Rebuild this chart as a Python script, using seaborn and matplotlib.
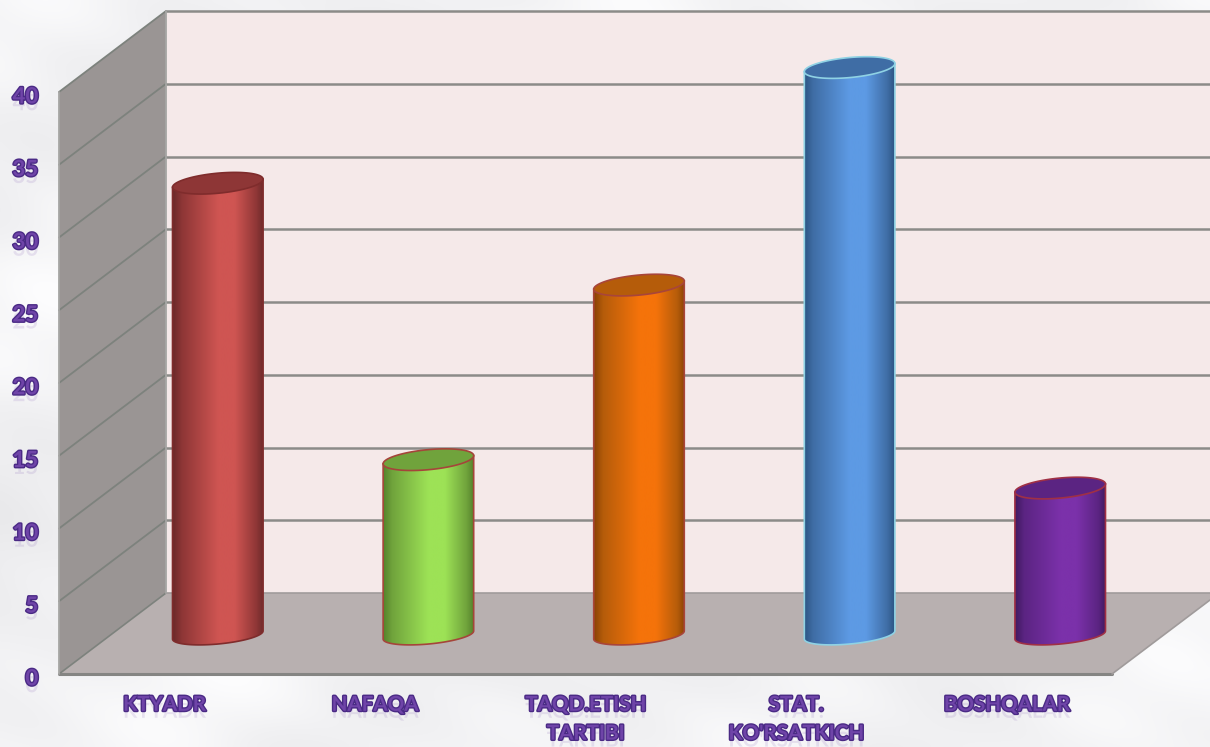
import numpy as np
import pandas as pd
import matplotlib
matplotlib.use("Agg")
import matplotlib.pyplot as plt
import matplotlib.patheffects as pe
from matplotlib.colors import LinearSegmentedColormap
from matplotlib.patches import Polygon
from matplotlib.transforms import ScaledTranslation
import seaborn as sns

categories = ["KTYADR", "NAFAQA", "TAQD.ETISH\nTARTIBI", "STAT.\nKO'RSATKICH", "BOSHQALAR"]
values = [31.05, 12.05, 24.05, 39.0, 10.1]
y_ticks = [0, 5, 10, 15, 20, 25, 30, 35, 40]

light_colors = ["#cf5552", "#9de256", "#f5730a", "#5d9ae4", "#7b31aa"]
dark_colors = ["#6c2a2a", "#55822c", "#8a4204", "#2c5583", "#401a60"]
top_colors = ["#8e3636", "#70a33c", "#b55c0a", "#3f6da5", "#5b2482"]
edge_colors = ["#7f2c2c", "#a5453a", "#a8453a", "#8fd2e4", "#a03045"]

W, H = 1210, 747
PURPLE = "#6f44a8"


def px_rect(left, top, right, bottom):
    return [left / W, 1 - bottom / H, (right - left) / W, (bottom - top) / H]


def text_effects():
    return [
        pe.withSimplePatchShadow(offset=(0, -5), shadow_rgbFace=PURPLE, alpha=0.13),
        pe.Stroke(linewidth=2.0, foreground="#4a2a85"),
        pe.Normal(),
    ]


def draw_background(bg):
    # soft cloudy backdrop
    yy, xx = np.mgrid[0:H:4, 0:W:4]
    cloud = (
        np.sin(xx / 83 + 1.2 * np.sin(yy / 120))
        + np.sin(yy / 61 + 1.5 * np.sin(xx / 140) + 2)
        + 0.7 * np.sin((xx + yy) / 47 + 1)
        + 0.5 * np.sin((xx - 2 * yy) / 31)
    )
    cloud = (cloud - cloud.min()) / (cloud.max() - cloud.min())
    cmap = LinearSegmentedColormap.from_list("cloud", ["#e8e8ea", "#f1f1f3", "#fdfdfe"])
    bg.imshow(cloud, cmap=cmap, extent=(0, W, H, 0), aspect="auto", interpolation="bicubic", zorder=0)


def draw_box(bg, ax_front):
    fx0, fx1, fy0 = 59, 1112, 674
    dx, dy = 107, -81
    grid = "#8b8b88"
    tick_px = [H - ax_front.transData.transform((0, t))[1] for t in y_ticks]
    top_front = tick_px[-1]

    # back wall, side wall, floor
    bg.add_patch(Polygon([(fx0 + dx, top_front + dy), (W, top_front + dy), (W, fy0 + dy), (fx0 + dx, fy0 + dy)],
                         facecolor="#f5e9e9", edgecolor="none", zorder=1))
    bg.add_patch(Polygon([(fx0, top_front), (fx0 + dx, top_front + dy), (fx0 + dx, fy0 + dy), (fx0, fy0)],
                         facecolor="#9a9594", edgecolor="none", zorder=1))
    bg.add_patch(Polygon([(fx0, fy0), (fx0 + dx, fy0 + dy), (W, fy0 + dy), (W, fy0 - 74), (fx1, fy0)],
                         facecolor="#b8b0b0", edgecolor="none", zorder=1))

    for y in tick_px[1:]:
        bg.plot([fx0, fx0 + dx], [y, y + dy], color="#7d827d", lw=1.3, zorder=2)
        bg.plot([fx0 + dx, W], [y + dy, y + dy], color=grid, lw=1.8, zorder=2)
    bg.plot([fx0, fx0 + dx], [fy0, fy0 + dy], color="#7d827d", lw=1.2, zorder=2)
    bg.plot([fx0 + dx, W], [fy0 + dy, fy0 + dy], color="#a09b9b", lw=1.2, zorder=2)
    bg.plot([fx0, fx1], [fy0, fy0], color="#858583", lw=2.2, zorder=3)
    bg.plot([fx1, W], [fy0, fy0 - 74], color="#a09b9b", lw=1.2, zorder=3)
    bg.plot([fx0, fx0], [top_front, fy0], color="#a6a6a4", lw=1.3, zorder=3)
    bg.plot([fx0 + dx, fx0 + dx], [top_front + dy, fy0 + dy], color="#a6a6a4", lw=1.3, zorder=3)


def draw_cylinders(ax):
    # shear and ellipse half height in data units
    shear, half = 0.28, 0.62
    t = np.linspace(0, 2 * np.pi, 120)
    arc = np.linspace(np.pi, 2 * np.pi, 60)
    for i, bar in enumerate(ax.patches):
        x0, w, h = bar.get_x(), bar.get_width(), bar.get_height()
        cx = x0 + w / 2

        bottom = np.column_stack([cx + w / 2 * np.cos(arc),
                                  shear * np.cos(arc) + half * np.sin(arc)])
        body_pts = np.vstack([[(x0, h - shear)], bottom, [(x0 + w, h + shear)]])
        body = Polygon(body_pts, closed=True, facecolor="none", edgecolor=edge_colors[i],
                       lw=1.2, zorder=5)

        cmap = LinearSegmentedColormap.from_list(
            f"cyl{i}",
            [(0, dark_colors[i]), (0.1, top_colors[i]), (0.5, light_colors[i]),
             (0.68, light_colors[i]), (0.92, top_colors[i]), (1, dark_colors[i])],
        )
        grad = np.linspace(0, 1, 256).reshape(1, -1)
        img = ax.imshow(grad, cmap=cmap, extent=(x0, x0 + w, -2, h + 2), aspect="auto", zorder=4)
        ax.add_patch(body)
        img.set_clip_path(body)
        bar.set_clip_path(body)

        top_pts = np.column_stack([cx + w / 2 * np.cos(t), h + shear * np.cos(t) + 0.69 * np.sin(t)])
        ax.add_patch(Polygon(top_pts, closed=True, facecolor=top_colors[i],
                             edgecolor=edge_colors[i], lw=1.2, zorder=6, clip_on=False))


def main():
    sns.set_theme(style="white")
    plt.rcParams["font.family"] = ["Lato", "DejaVu Sans"]

    df = pd.DataFrame({"category": categories, "value": values})

    fig = plt.figure(figsize=(W / 100, H / 100), dpi=100)

    bg = fig.add_axes([0, 0, 1, 1], zorder=0)
    bg.set_xlim(0, W)
    bg.set_ylim(H, 0)
    bg.axis("off")

    # front plane carries the tick labels
    ax_front = fig.add_axes(px_rect(59, 92, 1112, 674), zorder=1)
    ax_front.patch.set_alpha(0)
    ax_front.set_xlim(-0.5, 4.5)
    ax_front.set_ylim(0, 40)
    ax_front.set_yticks(y_ticks)
    ax_front.set_xticks(range(len(categories)))
    ax_front.set_xticklabels(categories)
    ax_front.tick_params(axis="x", length=0, pad=15)
    ax_front.tick_params(axis="y", length=0, pad=15)
    sns.despine(ax=ax_front, left=True, bottom=True)
    for label in ax_front.get_xticklabels():
        label.set_fontsize(14.8)
        label.set_linespacing(1.55)
    nudge = ScaledTranslation(0, -2 / 72, fig.dpi_scale_trans)
    for label in ax_front.get_yticklabels():
        label.set_fontsize(16)
        label.set_transform(label.get_transform() + nudge)
    for label in ax_front.get_xticklabels() + ax_front.get_yticklabels():
        label.set_fontweight("bold")
        label.set_color(PURPLE)
        label.set_path_effects(text_effects())

    draw_background(bg)
    draw_box(bg, ax_front)

    # bars stand half way into the box, axes run a bit under zero for the round base
    ax_bar = fig.add_axes(px_rect(112.5, 53, 1165.5, 664.1), zorder=2)
    sns.barplot(data=df, x="category", y="value", hue="category", palette=light_colors,
                width=0.43, legend=False, ax=ax_bar, saturation=1)
    draw_cylinders(ax_bar)
    ax_bar.set_xlim(-0.5, 4.5)
    ax_bar.set_ylim(-2, 40)
    ax_bar.axis("off")

    fig.savefig("out.png", dpi=100)


if __name__ == "__main__":
    main()
